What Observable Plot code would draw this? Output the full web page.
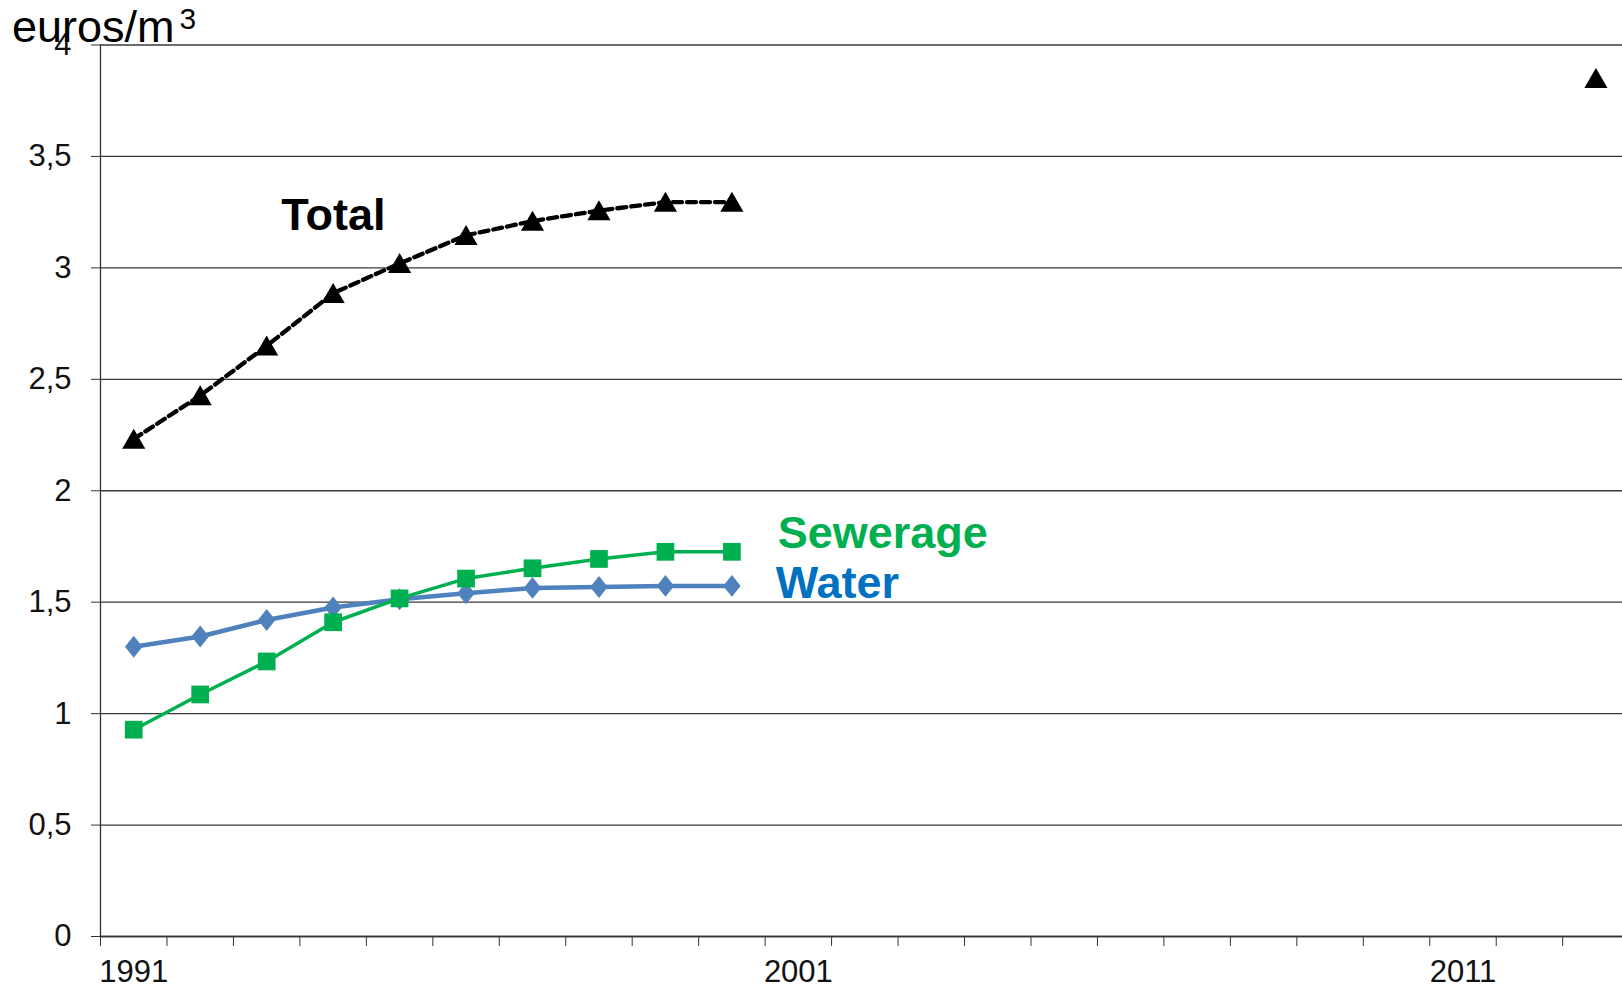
<!DOCTYPE html>
<html><head><meta charset="utf-8">
<script src="https://cdn.jsdelivr.net/npm/d3@7"></script>
<script src="https://cdn.jsdelivr.net/npm/@observablehq/plot@0.6"></script>
<style>
html,body{margin:0;padding:0;background:#fff;overflow:hidden}
#chart svg{display:block}
</style></head><body><div id="chart"></div>
<script>
// ---- data ----
const years = [1991, 1992, 1993, 1994, 1995, 1996, 1997, 1998, 1999, 2000];
const water = [1.30, 1.346, 1.42, 1.476, 1.513, 1.54, 1.564, 1.568, 1.573, 1.573];
const sewerage = [0.928, 1.086, 1.234, 1.41, 1.517, 1.606, 1.652, 1.694, 1.726, 1.726];
const total = [2.232, 2.427, 2.65, 2.886, 3.02, 3.146, 3.21, 3.257, 3.295, 3.295];
const laterYears = [2013];
const laterTotal = [3.85];
const yTicks = [0, 0.5, 1, 1.5, 2, 2.5, 3, 3.5, 4];
const xTickLabels = [1991, 2001, 2011];
const categoryBounds = d3.range(1990.5, 2013, 1);
const seriesLabels = ["Total", "Sewerage", "Water"];
const unitLabel = "euros/m";
const unitSup = "3";

// ---- build ----
const rows = years.map((year, i) => ({year, water: water[i], sewerage: sewerage[i], total: total[i]}));
const laterRows = laterYears.map((year, i) => ({year, total: laterTotal[i]}));
const fmt = d => String(d).replace(".", ",");
const font = "'Liberation Sans', Arial, sans-serif";

const rhombus = {
  draw(ctx, size) {
    const h = Math.sqrt(size / 0.4) / 2;
    const w = h * 0.8;
    ctx.moveTo(0, -h); ctx.lineTo(w, 0); ctx.lineTo(0, h); ctx.lineTo(-w, 0); ctx.closePath();
  }
};

const plot = Plot.plot({
  width: 1622, height: 988,
  marginLeft: 100, marginRight: 0, marginTop: 44.5, marginBottom: 52,
  style: {fontFamily: font, background: "#fff", color: "#000", overflow: "visible"},
  x: {type: "linear", domain: [1990.5, 2013.4]},
  y: {domain: [0, 4]},
  marks: [
    Plot.gridY(yTicks, {stroke: "#3a3a3a", strokeOpacity: 1, strokeWidth: 1.3}),
    Plot.axisY(yTicks, {tickSize: 9, tickPadding: 20, tickFormat: fmt, fontSize: 31, label: null, stroke: "#333", fill: "#111"}),
    Plot.axisX(categoryBounds, {tickSize: 10, tickFormat: () => "", label: null, stroke: "#333"}),
    Plot.axisX(xTickLabels, {tickSize: 0, tickPadding: 23, tickFormat: d => String(d), fontSize: 31, label: null, fill: "#111"}),
    Plot.ruleX([1990.5], {stroke: "#333", strokeWidth: 1.3}),
    Plot.ruleY([0], {stroke: "#333", strokeWidth: 1.6}),
    Plot.line(rows, {x: "year", y: "water", stroke: "#4F81BD", strokeWidth: 4.5}),
    Plot.dot(rows, {x: "year", y: "water", symbol: rhombus, r: 7.8, fill: "#4F81BD", stroke: "none"}),
    Plot.line(rows, {x: "year", y: "sewerage", stroke: "#00B050", strokeWidth: 3.5}),
    Plot.dot(rows, {x: "year", y: "sewerage", symbol: "square", r: 10, fill: "#00B050", stroke: "none"}),
    Plot.line(rows, {x: "year", y: "total", stroke: "#000", strokeWidth: 4.3, strokeDasharray: "9,5"}),
    Plot.dot(rows, {x: "year", y: "total", symbol: "triangle", r: 8.6, fill: "#000", stroke: "none", dy: 3}),
    Plot.dot(laterRows, {x: "year", y: "total", symbol: "triangle", r: 8.6, fill: "#000", stroke: "none", dy: 3}),
    Plot.text([seriesLabels[0]], {x: 1993.22, y: 3.17, text: d => d, textAnchor: "start", lineAnchor: "bottom", fontSize: 45, fontWeight: "bold", fill: "#000"}),
    Plot.text([seriesLabels[1]], {x: 2000.69, y: 1.744, text: d => d, textAnchor: "start", lineAnchor: "bottom", fontSize: 45, fontWeight: "bold", fill: "#00B050"}),
    Plot.text([seriesLabels[2]], {x: 2000.66, y: 1.52, text: d => d, textAnchor: "start", lineAnchor: "bottom", fontSize: 45, fontWeight: "bold", fill: "#0070C0"})
  ]
});

const svg = d3.select(plot);
const t = svg.append("text")
  .attr("x", 12).attr("y", 42)
  .attr("text-anchor", "start")
  .attr("font-family", font).attr("font-size", 45).attr("fill", "#000");
t.append("tspan").text(unitLabel);
t.append("tspan").attr("dx", 5).attr("dy", -13).attr("font-size", 30).text(unitSup);

document.getElementById("chart").appendChild(plot);
</script>
</body></html>
